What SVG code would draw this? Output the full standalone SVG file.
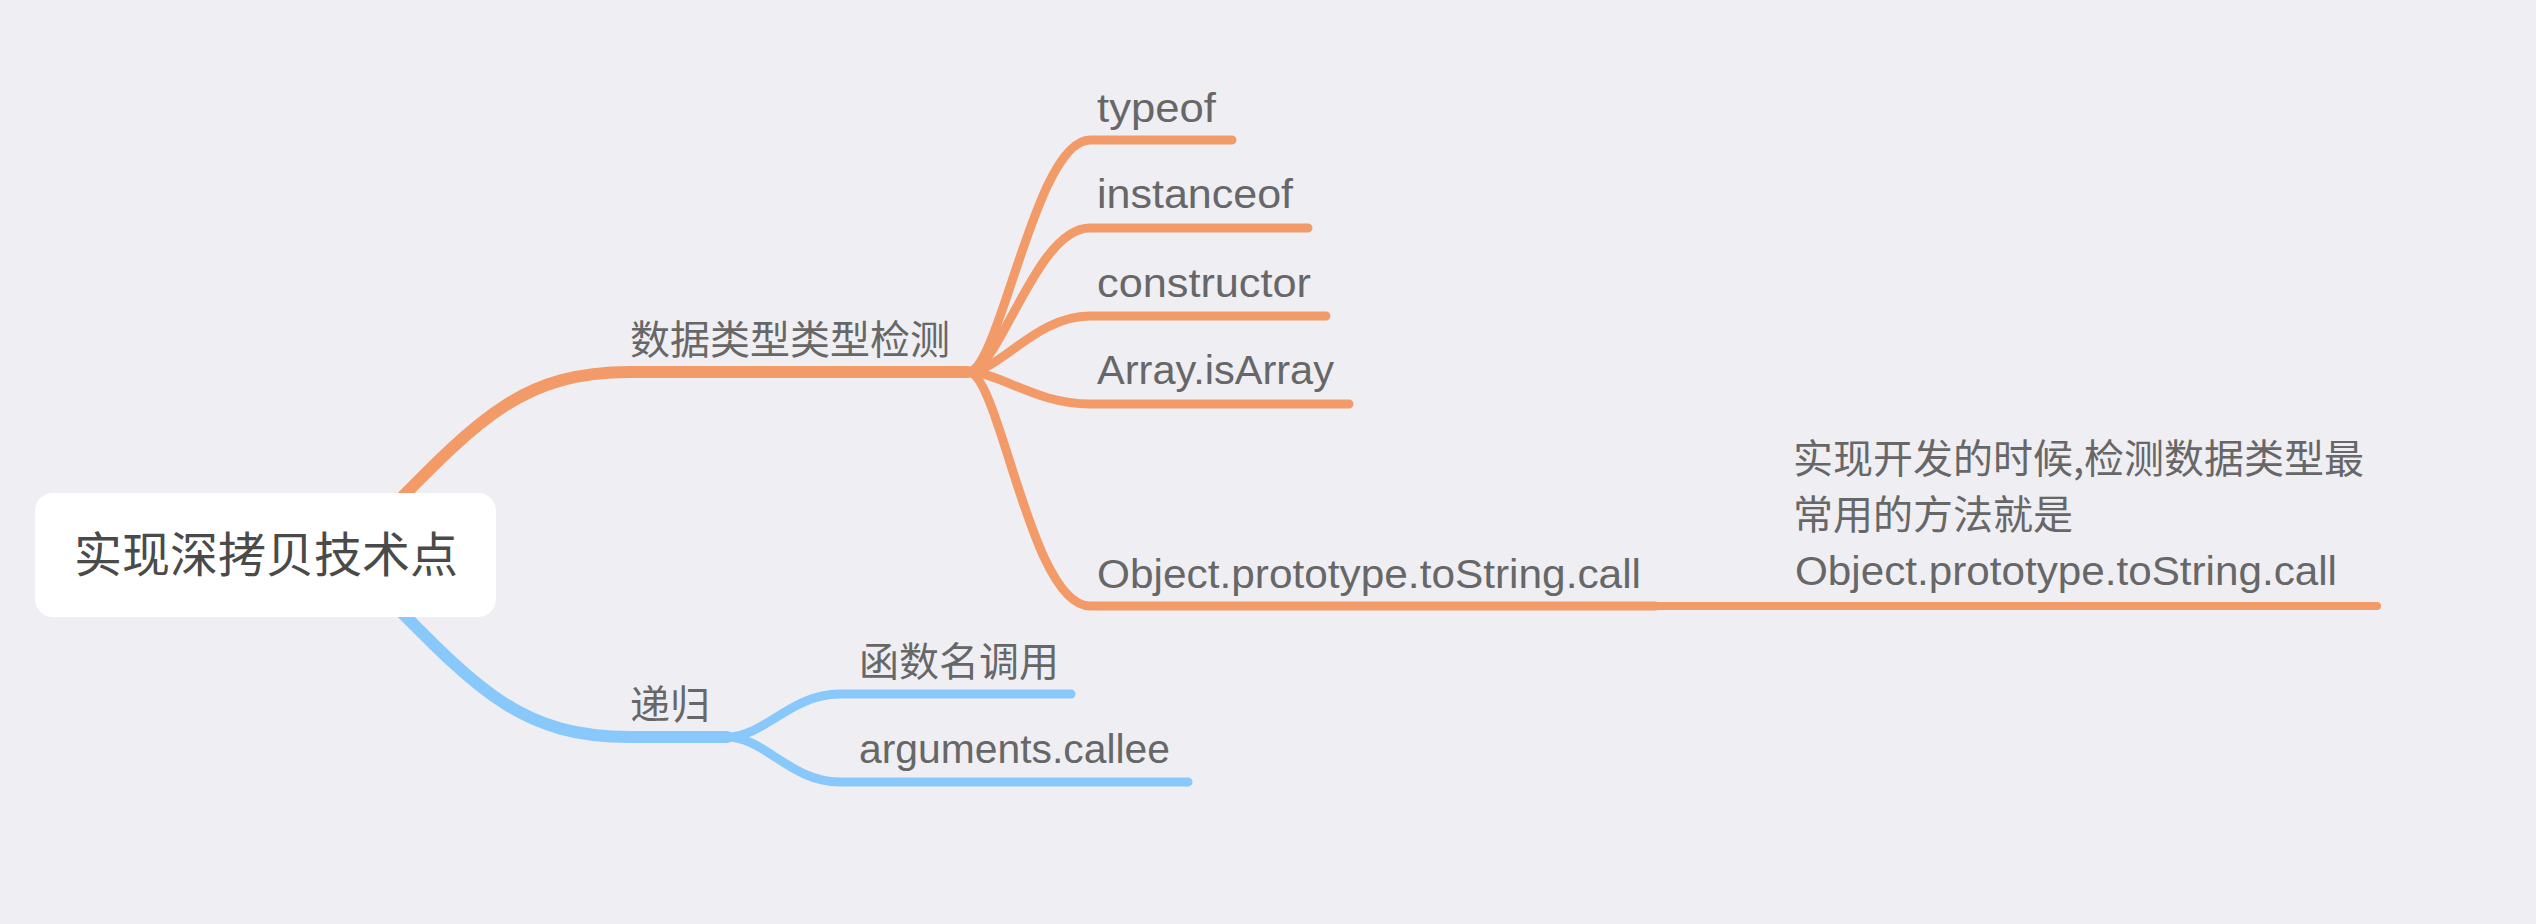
<svg xmlns="http://www.w3.org/2000/svg" width="2536" height="924" viewBox="0 0 2536 924">
<style>
.bg{fill:#EFEEF3}
.o{fill:none;stroke:#F29B69;stroke-linecap:round}
.b{fill:none;stroke:#88C8FA;stroke-linecap:round}
.main{stroke-width:12}
.sub{stroke-width:9}
.note{stroke-width:8}
.lat{font-family:"Liberation Sans",Arial,sans-serif;font-size:40px;fill:#676767}
.cjk{font-family:"Noto Sans CJK SC","Liberation Sans",sans-serif;font-size:40px;fill:#676767}
.root{font-family:"Noto Sans CJK SC","Liberation Sans",sans-serif;font-size:48px;fill:#4a4a4a}
</style>
<rect class="bg" x="0" y="0" width="2536" height="924"/>
<g id="connectors">
  <path class="o main" d="M350,550 C470,430 510,372 630,372 L968,372"/>
  <path class="o sub" d="M968,372 C1000,372 1035,140 1090,140 L1232,140"/>
  <path class="o sub" d="M968,372 C1000,372 1035,228 1090,228 L1308,228"/>
  <path class="o sub" d="M968,372 C1000,372 1035,316 1090,316 L1326,316"/>
  <path class="o sub" d="M968,372 C1000,372 1035,404 1090,404 L1349,404"/>
  <path class="o sub" d="M968,372 C1000,372 1030,606 1090,606 L1655,606"/>
  <path class="o note" d="M1655,606 L2377,606"/>
  <path class="b main" d="M350,560 C470,680 510,737 630,737 L727,737"/>
  <path class="b sub" d="M727,737 C765,737 790,694 840,694 L1071,694"/>
  <path class="b sub" d="M727,737 C765,737 790,782 840,782 L1188,782"/>
</g>
<g id="root">
  <rect x="35" y="493" width="461" height="124" rx="18" ry="18" fill="#FFFFFF"/>
  <text class="root" x="266" y="572" text-anchor="middle">实现深拷贝技术点</text>
</g>
<g id="n-detect">
  <text class="cjk" x="630" y="354">数据类型类型检测</text>
</g>
<g id="n-typeof">
  <text class="lat" x="1097" y="122" textLength="119" lengthAdjust="spacingAndGlyphs">typeof</text>
</g>
<g id="n-instanceof">
  <text class="lat" x="1097" y="208" textLength="196" lengthAdjust="spacingAndGlyphs">instanceof</text>
</g>
<g id="n-constructor">
  <text class="lat" x="1097" y="297" textLength="214" lengthAdjust="spacingAndGlyphs">constructor</text>
</g>
<g id="n-isarray">
  <text class="lat" x="1097" y="384" textLength="237" lengthAdjust="spacingAndGlyphs">Array.isArray</text>
</g>
<g id="n-tostring">
  <text class="lat" x="1097" y="588" textLength="544" lengthAdjust="spacingAndGlyphs">Object.prototype.toString.call</text>
</g>
<g id="n-note">
  <text class="cjk" x="1793" y="473">实现开发的时候,检测数据类型最</text>
  <text class="cjk" x="1793" y="529">常用的方法就是</text>
  <text class="lat" x="1795" y="585" textLength="542" lengthAdjust="spacingAndGlyphs">Object.prototype.toString.call</text>
</g>
<g id="n-recursion">
  <text class="cjk" x="630" y="719">递归</text>
</g>
<g id="n-fname">
  <text class="cjk" x="859" y="676">函数名调用</text>
</g>
<g id="n-callee">
  <text class="lat" x="859" y="763" textLength="311" lengthAdjust="spacingAndGlyphs">arguments.callee</text>
</g>
</svg>
